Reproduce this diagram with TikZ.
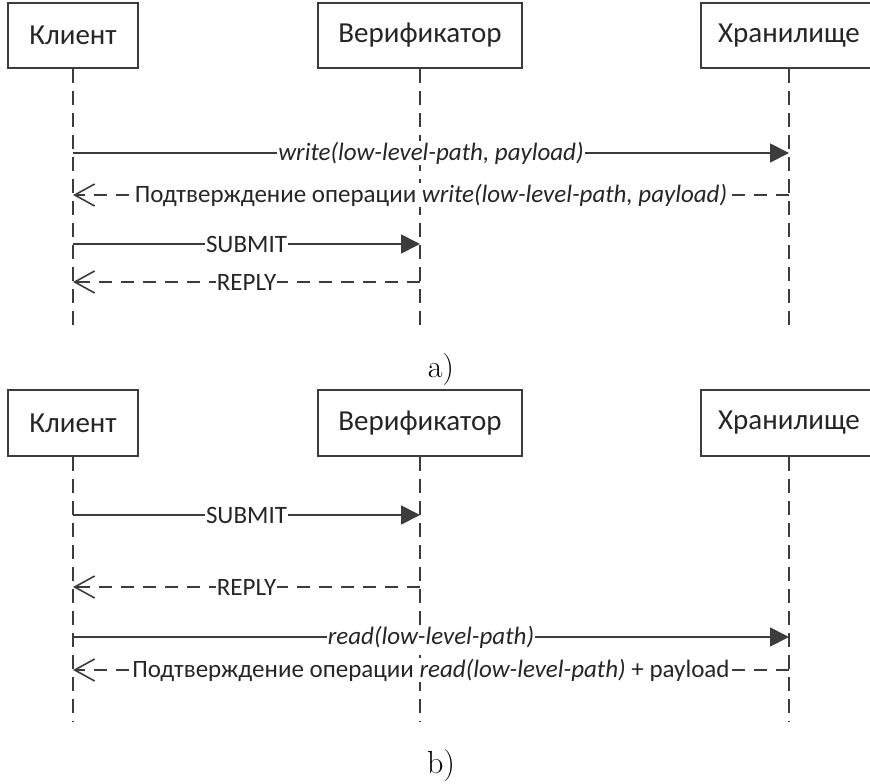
\documentclass[tikz,border=0pt]{standalone}
\usepackage{fontspec}
\setmainfont{Latin Modern Roman}
\newfontfamily\lbl{Carlito}
\usetikzlibrary{arrows.meta}
\definecolor{ln}{HTML}{3C3C3C}
\tikzset{
  actor/.style={draw=ln, line width=1.8pt, fill=white, minimum height=65pt, inner sep=0pt, font=\lbl\fontsize{29}{32}\selectfont, text=black!85},
  life/.style={draw=ln, line width=1.8pt, dash pattern=on 14pt off 8pt},
  call/.style={draw=ln, line width=1.8pt, -{Triangle[length=19pt,width=19pt]}},
  ret/.style={draw=ln, line width=1.8pt, dash pattern=on 13pt off 9pt, -{Straight Barb[length=20pt,width=22pt,line width=1.6pt]}},
  mlbl/.style={fill=white, inner sep=1pt, font=\lbl\fontsize{25}{28}\selectfont, text=black!85},
  subcap/.style={font=\fontsize{32}{36}\selectfont}
}
\begin{document}
\begin{tikzpicture}[x=1pt,y=-1pt]
\useasboundingbox (0,0) rectangle (870,784);
% ---- part a
\node[actor, minimum width=130pt] (ca) at (73,35.5) {Клиент};
\node[actor, minimum width=204pt] (va) at (420,35.5) {Верификатор};
\node[actor, minimum width=176pt] (sa) at (789,35.5) {Хранилище};
\coordinate (cae) at (73,332);
\coordinate (vae) at (420,332);
\coordinate (sae) at (789,332);
\draw[life] (ca.south) -- (cae);
\draw[life] (va.south) -- (vae);
\draw[life] (sa.south) -- (sae);
\coordinate (a1c) at (73,153);  \coordinate (a1s) at (789,153);
\coordinate (a2c) at (73,195);  \coordinate (a2s) at (789,195);
\coordinate (a3c) at (73,244);  \coordinate (a3v) at (420,244);
\coordinate (a4c) at (73,282);  \coordinate (a4v) at (420,282);
\draw[call] (a1c) -- node[mlbl] (l1) {\itshape write(low-level-path, payload)} (a1s);
\draw[ret] (a2s) -- node[mlbl] (l2) {Подтверждение операции \itshape write(low-level-path, payload)} (a2c);
\draw[call] (a3c) -- node[mlbl] (l3) {SUBMIT} (a3v);
\draw[ret] (a4v) -- node[mlbl] (l4) {REPLY} (a4c);
\node[subcap] (capa) at (441,370) {a)};
% ---- part b
\node[actor, minimum width=130pt, minimum height=66pt] (cb) at (73,423) {Клиент};
\node[actor, minimum width=204pt, minimum height=66pt] (vb) at (420,423) {Верификатор};
\node[actor, minimum width=176pt, minimum height=66pt] (sb) at (789,423) {Хранилище};
\coordinate (cbe) at (73,722);
\coordinate (vbe) at (420,722);
\coordinate (sbe) at (789,722);
\draw[life] (cb.south) -- (cbe);
\draw[life] (vb.south) -- (vbe);
\draw[life] (sb.south) -- (sbe);
\coordinate (b1c) at (73,515);  \coordinate (b1v) at (420,515);
\coordinate (b2c) at (73,587);  \coordinate (b2v) at (420,587);
\coordinate (b3c) at (73,637);  \coordinate (b3s) at (789,637);
\coordinate (b4c) at (73,670);  \coordinate (b4s) at (789,670);
\draw[call] (b1c) -- node[mlbl] (m1) {SUBMIT} (b1v);
\draw[ret] (b2v) -- node[mlbl] (m2) {REPLY} (b2c);
\draw[call] (b3c) -- node[mlbl] (m3) {\itshape read(low-level-path)} (b3s);
\draw[ret] (b4s) -- node[mlbl] (m4) {Подтверждение операции \textit{read(low-level-path)} + payload} (b4c);
\node[subcap] (capb) at (441,766) {b)};
\end{tikzpicture}
\end{document}
